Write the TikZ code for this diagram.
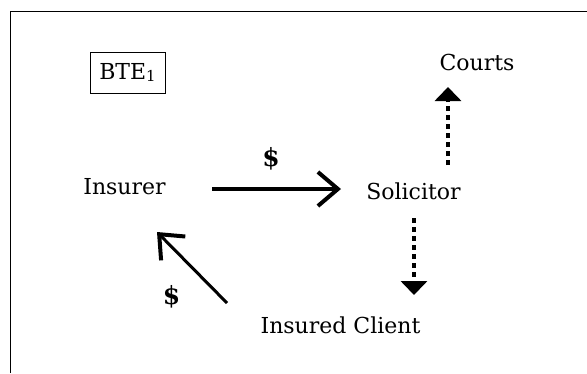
\documentclass[tikz,border=0pt]{standalone}
\usepackage{fontspec}
\setmainfont{DejaVu Serif}
\usetikzlibrary{arrows.meta, positioning}
\begin{document}
\begin{tikzpicture}[x=1pt, y=-1pt,
        every node/.style={inner sep=0pt, font=\fontsize{22}{26}\selectfont},
        party/.style={anchor=base},
        tagbox/.style={draw, line width=1pt, minimum width=75pt, minimum height=41pt},
        cash/.style={font=\fontsize{25}{30}\selectfont\bfseries},
        paid/.style={-{Straight Barb[length=20pt, width=34pt, line width=4pt]}, line width=4pt},
        refer/.style={-{Triangle[length=14pt, width=26pt]}, line width=4.5pt, dash pattern=on 5pt off 4pt}
        ]
        \useasboundingbox (0,0) rectangle (587,373);
        \fill[white] (0,0) rectangle (587,373);
        % frame
        \draw[line width=1pt] (10,373) -- (10,11) -- (587,11);

        % Nodes
        \node[tagbox] (bte) at (127.5,72.5) {BTE{\fontsize{15}{18}\selectfont\raisebox{-1.5pt}{1}}};
        \node[party] (insurer) at (124.5,194) {Insurer};
        \node[party] (solicitor) at (413.5,199) {Solicitor};
        \node[party] (courts) at (477,70) {Courts};
        \node[party] (client) at (340.5,333) {Insured Client};
        \node[cash] (feetop) at (271,159) {\$};
        \node[cash] (feelow) at (171.5,297) {\$};

        % Arrows
        \draw[paid] ([shift={(87.5,-5)}]insurer.base) -- ([shift={(-72.5,-10)}]solicitor.base);
        \draw[paid, line width=3pt] ([shift={(-113.5,-30)}]client.base) -- ([shift={(32.5,38)}]insurer.base);
        \draw[refer] ([shift={(34.5,-34)}]solicitor.base) -- ([shift={(-29,17)}]courts.base);
        \draw[refer] ([shift={(0.5,19)}]solicitor.base) -- ([shift={(73.5,-38)}]client.base);
\end{tikzpicture}
\end{document}
